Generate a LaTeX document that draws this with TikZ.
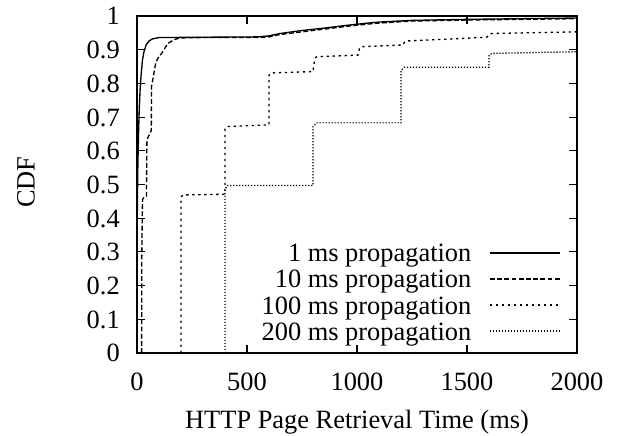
\documentclass[tikz,border=0pt]{standalone}
\usepackage{fontspec}
\setmainfont{Liberation Serif}
\usepackage{tikz}

\tikzset{
  frame/.style={line width=1.5pt},
  tickmark/.style={line width=0.8pt},
  ms1/.style={line width=1pt},
  ms10/.style={line width=1pt, dash pattern=on 3.6pt off 1.8pt},
  ms100/.style={line width=1pt, dash pattern=on 1.8pt off 2.7pt},
  ms200/.style={line width=1pt, dash pattern=on 0.9pt off 1.35pt},
  lbl/.style={inner sep=0pt, font=\fontsize{19.8}{24}\selectfont},
}

\begin{document}
\begin{tikzpicture}[x=0.75pt, y=0.75pt]
  \useasboundingbox (0,0) rectangle (620,435);

  \node[lbl, rotate=90] (cdf) at (26,253) {CDF};
  \node[lbl, anchor=base] (xlabel) at (357,7) {HTTP Page Retrieval Time (ms)};

  \begin{scope}[shift={(102.75pt,61.5pt)}, x=0.165pt, y=252.75pt]
    % curves
    \draw[ms1] plot coordinates {(1,0.38) (2,0.46) (4,0.56) (7,0.65) (10,0.72) (14,0.78)
      (18,0.82) (25,0.87) (32,0.895) (42,0.915) (55,0.926) (70,0.932) (100,0.936)
      (300,0.937) (550,0.938) (600,0.941) (650,0.948) (750,0.957) (850,0.964)
      (950,0.972) (1050,0.979) (1100,0.982) (1250,0.987) (1500,0.990) (1750,0.992) (2000,0.994)};
    \draw[ms10] plot coordinates {(21,0) (22,0.3) (25,0.455) (30,0.46) (43,0.465) (45,0.63)
      (50,0.64) (59,0.652) (65,0.66) (66,0.79) (74,0.82) (85,0.86) (94,0.874) (112,0.889)
      (141,0.919) (170,0.93) (195,0.935) (300,0.936) (550,0.936) (600,0.938) (650,0.945)
      (750,0.953) (850,0.961) (950,0.969) (1050,0.976) (1100,0.979) (1250,0.985)
      (1500,0.988) (2000,0.992)};
    \draw[ms100] plot coordinates {(200,0) (200,0.462) (208,0.469) (400,0.471) (400,0.665)
      (408,0.672) (600,0.677) (600,0.824) (608,0.831) (800,0.835) (808,0.874) (816,0.879)
      (1005,0.884) (1012,0.906) (1022,0.909) (1210,0.914) (1216,0.923) (1228,0.926)
      (1400,0.931) (1590,0.937) (1600,0.945) (1612,0.948) (2000,0.953)};
    \draw[ms200] plot coordinates {(400,0) (400,0.485) (410,0.497) (800,0.497) (800,0.672)
      (815,0.683) (1200,0.683) (1200,0.838) (1215,0.848) (1600,0.848) (1600,0.884)
      (1615,0.889) (2000,0.894)};

    % frame and ticks
    \draw[frame] (0,0) rectangle (2000,1);
    \foreach \i/\t in {0/0,1/0.1,2/0.2,3/0.3,4/0.4,5/0.5,6/0.6,7/0.7,8/0.8,9/0.9,10/1} {
      \draw[tickmark] (0,\i/10) -- ++(6pt,0);
      \draw[tickmark] (2000,\i/10) -- ++(-6pt,0);
      \node[lbl, anchor=base east] (ytick\i) at ([xshift=-12.75pt, yshift=-6.7pt]0,\i/10) {\t};
    }
    \foreach \i in {0,500,1000,1500,2000} {
      \draw[tickmark] (\i,0) -- ++(0,6pt);
      \draw[tickmark] (\i,1) -- ++(0,-6pt);
      \node[lbl, anchor=base] (xtick\i) at ([yshift=-27.75pt]\i,0) {\i};
    }

    % key
    \foreach \k/\s/\yy in {1/ms1/0.297,10/ms10/0.220,100/ms100/0.142,200/ms200/0.065} {
      \node[lbl, anchor=base east] (key\k) at ([yshift=-6.7pt]1521,\yy) {\k{} ms propagation};
      \coordinate (keya\k) at (1605,\yy);
      \coordinate (keyb\k) at (1923,\yy);
      \draw[\s] (keya\k) -- (keyb\k);
    }
  \end{scope}
\end{tikzpicture}
\end{document}
